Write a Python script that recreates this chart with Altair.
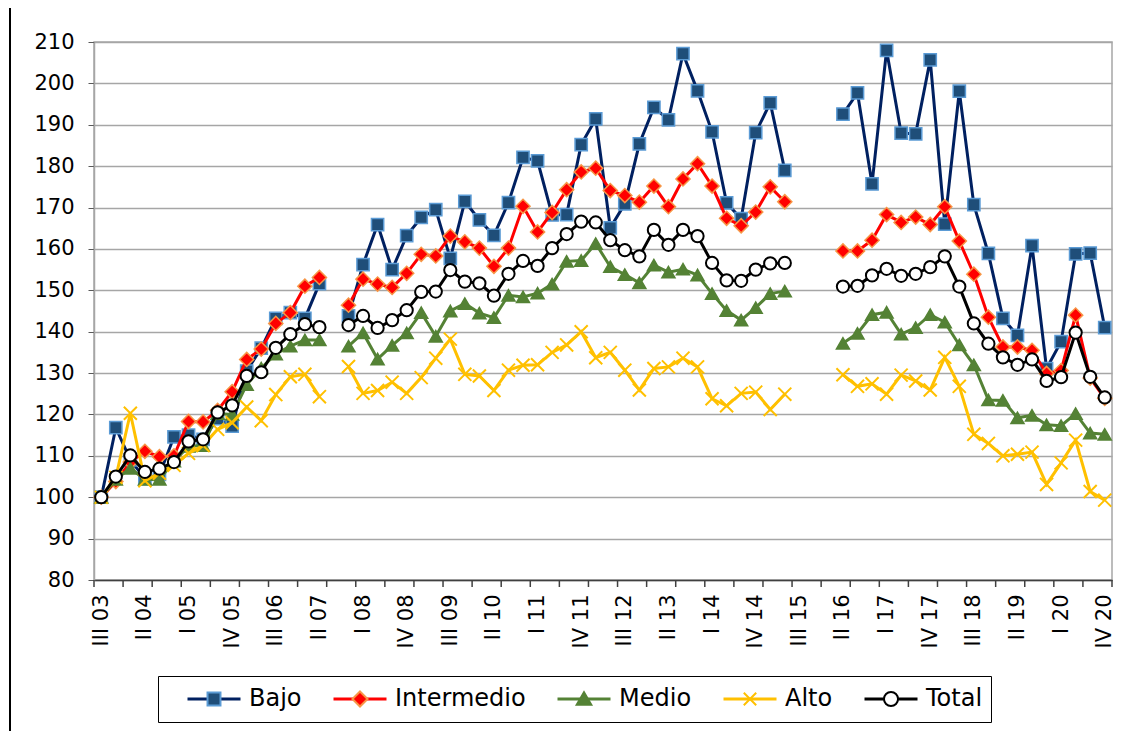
import json
import altair as alt
import pandas as pd

# ---------------- data ----------------
quarters = [
    "III 03", "IV 03",
    "I 04", "II 04", "III 04", "IV 04",
    "I 05", "II 05", "III 05", "IV 05",
    "I 06", "II 06", "III 06", "IV 06",
    "I 07", "II 07", "III 07", "IV 07",
    "I 08", "II 08", "III 08", "IV 08",
    "I 09", "II 09", "III 09", "IV 09",
    "I 10", "II 10", "III 10", "IV 10",
    "I 11", "II 11", "III 11", "IV 11",
    "I 12", "II 12", "III 12", "IV 12",
    "I 13", "II 13", "III 13", "IV 13",
    "I 14", "II 14", "III 14", "IV 14",
    "I 15", "II 15", "III 15", "IV 15",
    "I 16", "II 16", "III 16", "IV 16",
    "I 17", "II 17", "III 17", "IV 17",
    "I 18", "II 18", "III 18", "IV 18",
    "I 19", "II 19", "III 19", "IV 19",
    "I 20", "II 20", "III 20", "IV 20",
]

tick_labels = ["III 03", "II 04", "I 05", "IV 05", "III 06", "II 07", "I 08", "IV 08",
               "III 09", "II 10", "I 11", "IV 11", "III 12", "II 13", "I 14", "IV 14",
               "III 15", "II 16", "I 17", "IV 17", "III 18", "II 19", "I 20", "IV 20"]

N = None
bajo = [100, 116.8, 109, 104.5, 105.5, 114.6, 115, 114, 119, 117.2,
        130.5, 136, 143.2, 144.6, 143.2, 151.6, N, 143.8, 156.2, 165.9,
        155, 163.2, 167.6, 169.5, 157.7, 171.5, 167, 163.3, 171.2, 182.1,
        181.3, 168.2, 168.3, 185.2, 191.4, 165.1, 170.9, 185.4, 194.2, 191.2,
        207.2, 198.2, 188.3, 171.1, 167.3, 188.1, 195.3, 179, N, N,
        N, 192.6, 197.7, 175.7, 208, 188, 187.8, 205.7, 166, 198.1,
        170.7, 158.9, 143.2, 139.1, 160.8, 131.1, 137.6, 158.8, 159, 141]
intermedio = [100, 103.8, 108.5, 111.1, 109.8, 110, 118.3, 118.2, 121, 125.5,
              133.3, 135.8, 142, 144.6, 151, 153.1, N, 146.4, 152.7, 151.5,
              150.7, 154.1, 158.7, 158.3, 163.1, 161.7, 160.2, 155.8, 160.2, 170.3,
              164.1, 168.8, 174.3, 178.6, 179.5, 174.1, 172.9, 171.3, 175.2, 170.2,
              176.9, 180.6, 175.2, 167.4, 165.6, 168.9, 175, 171.4, N, N,
              N, 159.5, 159.5, 162.1, 168.3, 166.4, 167.7, 165.9, 170.2, 161.9,
              153.9, 143.5, 136.3, 136.3, 135.5, 129.9, 130.6, 144, 128.8, 123.9]
medio = [100, 104.3, 107, 104.3, 104.3, 108.7, 112.3, 112.5, 120.2, 120,
         127.2, 131.2, 134.6, 136.5, 138, 138, N, 136.5, 139.7, 133.4,
         136.7, 139.7, 144.6, 138.9, 145, 146.8, 144.5, 143.4, 148.8, 148.4,
         149.3, 151.5, 157, 157.2, 161.3, 155.7, 153.8, 151.8, 156.1, 154.4,
         155.1, 153.7, 149.2, 145.1, 142.8, 145.8, 149.2, 149.8, N, N,
         N, 137.2, 139.6, 144.1, 144.7, 139.4, 141, 144.1, 142.3, 136.8,
         132, 123.5, 123.4, 119.2, 119.8, 117.5, 117.3, 120.2, 115.5, 115.2]
alto = [100, 104.8, 120.3, 104, 105.8, 107.7, 110.6, 112.5, 116.4, 118,
        121.8, 118.5, 124.8, 129.1, 129.7, 124.3, N, 131.6, 125.1, 125.8,
        127.8, 125.1, 128.9, 133.6, 138.2, 129.7, 129.3, 125.8, 130.7, 131.9,
        132, 135, 136.8, 140, 133.7, 135, 130.7, 125.9, 131.1, 131.5,
        133.6, 131.5, 123.8, 122.1, 125.1, 125.4, 121.2, 124.9, N, N,
        N, 129.6, 126.8, 127.4, 124.9, 129.5, 128.1, 125.9, 133.8, 126.8,
        115.2, 113, 110, 110.4, 110.9, 103.1, 108.3, 113.8, 101.4, 99.3]
total = [100, 105, 110.1, 106.1, 106.9, 108.5, 113.5, 114, 120.5, 122.2,
         129.3, 130.2, 136.1, 139.4, 141.8, 141.1, N, 141.6, 143.8, 140.9,
         142.8, 145.2, 149.6, 149.7, 154.9, 152.1, 151.7, 148.7, 154, 157.1,
         155.9, 160.2, 163.6, 166.6, 166.4, 162.1, 159.7, 158.2, 164.6, 161,
         164.6, 163.1, 156.6, 152.4, 152.3, 155, 156.5, 156.6, N, N,
         N, 150.9, 151.1, 153.6, 155.2, 153.5, 154, 155.6, 158.2, 150.9,
         142, 137.1, 133.8, 132, 133.3, 128.1, 129, 139.8, 129.1, 124.1]

series_names = ["Bajo", "Intermedio", "Medio", "Alto", "Total"]
series_values = [bajo, intermedio, medio, alto, total]

# ---------------- styles ----------------
line_colors = ["#002060", "#ff0000", "#548235", "#ffc000", "#000000"]
marker_fill = ["#1f4e79", "#ff0000", "#548235", "transparent", "#ffffff"]
marker_stroke = ["#5b9bd5", "#f79646", "#548235", "#ffc000", "#000000"]
marker_shape = ["square", "diamond", "triangle-up", "M-1,-1L1,1M-1,1L1,-1", "circle"]
marker_size = [150, 200, 170, 170, 150]
legend_paths = [
    "M-0.24,-0.24H0.24V0.24H-0.24Z",
    "M0,-0.28L0.28,0L0,0.28L-0.28,0Z",
    "M0,-0.25L0.27,0.21L-0.27,0.21Z",
    "M-0.23,-0.23L0.23,0.23M-0.23,0.23L0.23,-0.23",
    "M0.26,0A0.26,0.26 0 1,1 -0.26,0A0.26,0.26 0 1,1 0.26,0Z",
]
FONT = "DejaVu Sans"
pkeys = [f"{k+1} {s}" for k, s in enumerate(series_names)]

rows = []
for k, (name, vals) in enumerate(zip(series_names, series_values)):
    seg = 0
    for i, v in enumerate(vals):
        if v is None:
            seg += 1
            continue
        rows.append({"i": i, "q": quarters[i], "v": v, "serie": name,
                     "serie_p": pkeys[k], "sc": marker_stroke[k], "seg": seg})
df = pd.DataFrame(rows)
ticks_df = pd.DataFrame({"t": [-0.5 + 2 * k for k in range(36)]})

n = len(quarters)
xscale = alt.Scale(domain=[-0.5, n - 0.5], nice=False, zero=False)
yscale = alt.Scale(domain=[80, 210], nice=False, zero=False)

label_expr = json.dumps(tick_labels) + "[round(datum.value/3)]"
xaxis = alt.Axis(values=list(range(0, n, 3)), labelExpr=label_expr, labelAngle=-90,
                 grid=False, tickSize=0, labelPadding=14, labelFont=FONT,
                 labelFontSize=21, labelColor="#000000", domainColor="#404040",
                 domainWidth=1.5, title=None, labelOverlap=False, labelFlush=False)
yaxis = alt.Axis(values=list(range(80, 211, 10)), grid=True, gridColor="#a6a6a6",
                 gridWidth=1.5, tickSize=6, tickColor="#595959", domainColor="#a6a6a6",
                 domainWidth=1.5, labelPadding=14, labelFont=FONT, labelFontSize=21,
                 labelColor="#000000", title=None, labelFlush=False)

LX, LY = 64, 634
common_legend = dict(orient="none", legendX=LX, legendY=LY, direction="horizontal",
                     columns=5, title=None, labelFont=FONT, labelFontSize=24,
                     symbolOffset=20, labelOffset=7, columnPadding=10, padding=8,
                     clipHeight=30)

line_legend = alt.Legend(symbolType="stroke", symbolSize=2809, symbolStrokeWidth=3,
                         strokeColor="#000000", labelColor="#000000", **common_legend)


def sig(vals):
    parts = ""
    for k, val in enumerate(vals[:-1]):
        parts += f"datum.value == '{pkeys[k]}' ? '{val}' : "
    return parts + f"'{vals[-1]}'"


pt_legend = alt.Legend(symbolSize=2916, symbolStrokeWidth=2, labelOpacity=0,
                       labelExpr="slice(datum.label, 2)",
                       symbolType={"expr": sig(legend_paths)},
                       symbolStrokeColor={"expr": sig(marker_stroke)},
                       symbolOpacity=1,
                       **common_legend)

layers = []
# axis tick marks (every 2 quarters, between categories)
layers.append(alt.Chart(ticks_df).mark_rule(color="#404040", strokeWidth=1.5).encode(
    x=alt.X("t:Q", scale=xscale, axis=xaxis),
    y=alt.value(538), y2=alt.value(545)))

for k, name in enumerate(series_names):
    base = alt.Chart(df).transform_filter(alt.datum.serie == name)
    line = base.mark_line(strokeWidth=3).encode(
        x=alt.X("i:Q", scale=xscale, axis=xaxis),
        y=alt.Y("v:Q", scale=yscale, axis=yaxis),
        stroke=alt.Stroke("serie:N", scale=alt.Scale(domain=series_names, range=line_colors),
                          legend=line_legend),
        detail="seg:N",
    )
    pts = base.mark_point(filled=True, shape=marker_shape[k], size=marker_size[k],
                          strokeWidth=2 if k >= 3 else 1.5, opacity=1).encode(
        x=alt.X("i:Q", scale=xscale, axis=xaxis),
        y=alt.Y("v:Q", scale=yscale, axis=yaxis),
        fill=alt.Fill("serie_p:N", scale=alt.Scale(domain=pkeys, range=marker_fill),
                      legend=pt_legend),
        stroke=alt.Stroke("sc:N", scale=None, legend=None),
    )
    layers += [line, pts]

# outer frame line at the left of the picture
layers.append(alt.Chart(ticks_df).mark_rule(color="#000000", strokeWidth=2).encode(
    x=alt.value(-84), y=alt.value(-50), y2=alt.value(760)))

chart = alt.layer(*layers).properties(
    width=1018, height=538,
    autosize=alt.AutoSizeParams(type="none"),
    padding={"left": 86, "top": 34, "right": 10, "bottom": 151},
    background="#ffffff",
).configure_view(stroke="#a6a6a6", strokeWidth=1.5)

chart.save("out.html", embed_options={"renderer": "svg", "actions": False})
